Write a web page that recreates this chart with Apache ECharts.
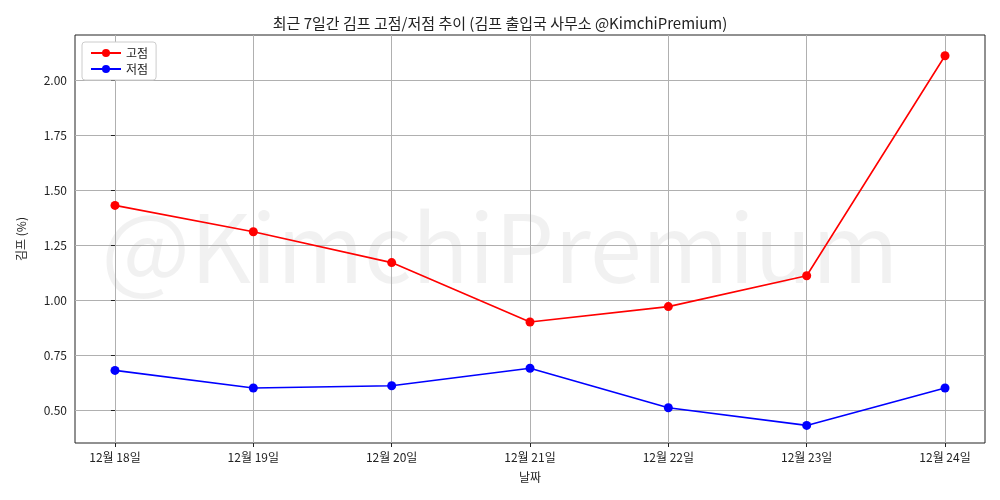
<!DOCTYPE html>
<html>
<head>
<meta charset="utf-8">
<script src="https://cdn.jsdelivr.net/npm/echarts@6/dist/echarts.min.js"></script>
<style>body{margin:0}#c{width:1000px;height:500px}</style>
</head>
<body>
<div id="c"></div>
<script>
var dates = ['12월 18일', '12월 19일', '12월 20일', '12월 21일', '12월 22일', '12월 23일', '12월 24일'];
var highVals = [1.43, 1.31, 1.17, 0.90, 0.97, 1.11, 2.11];
var lowVals = [0.68, 0.60, 0.61, 0.69, 0.51, 0.43, 0.60];
var yTicks = [0.5, 0.75, 1.0, 1.25, 1.5, 1.75, 2.0];

var font = '"Noto Sans CJK KR", "DejaVu Sans", sans-serif';
function pts(arr) { return arr.map(function (v, i) { return [i, v]; }); }
var xTicks = dates.map(function (_, i) { return i; });

var chart = echarts.init(document.getElementById('c'));
chart.setOption({
    animation: false,
    textStyle: { fontFamily: font },
    title: {
        text: '최근 7일간 김프 고점/저점 추이 (김프 출입국 사무소 @KimchiPremium)',
        left: 'center', top: 11,
        textStyle: { fontSize: 15, fontWeight: 'normal', color: '#222', fontFamily: font }
    },
    graphic: [{
        type: 'text', left: 'center', top: 200, z: 0, silent: true,
        style: { text: '@KimchiPremium', fontSize: 94, fill: 'rgba(0,0,0,0.055)', fontFamily: font }
    }],
    legend: {
        left: 82, top: 42, orient: 'vertical', itemGap: 4,
        backgroundColor: '#fff', borderColor: '#ccc', borderWidth: 1, borderRadius: 3, padding: [5, 8],
        itemWidth: 30, itemHeight: 10,
        textStyle: { fontSize: 12, color: '#222' },
        data: ['고점', '저점']
    },
    grid: { left: 75, right: 15, top: 35, bottom: 57, show: true, borderColor: '#222', borderWidth: 1 },
    xAxis: {
        type: 'value', min: -0.289, max: 6.289,
        name: '날짜', nameLocation: 'middle', nameGap: 28, nameTextStyle: { fontSize: 12, color: '#222' },
        axisLine: { show: false },
        axisTick: { show: true, customValues: xTicks, length: 4, lineStyle: { color: '#222' } },
        axisLabel: { customValues: xTicks, fontSize: 12, color: '#222', margin: 8, formatter: function (v) { return dates[Math.round(v)]; } },
        splitLine: { show: true, lineStyle: { color: '#b0b0b0' } }
    },
    yAxis: {
        type: 'value', min: 0.35, max: 2.2045,
        name: '김프 (%)', nameLocation: 'middle', nameGap: 48, nameTextStyle: { fontSize: 12, color: '#222' },
        axisLine: { show: false },
        axisTick: { show: true, customValues: yTicks, length: 4, lineStyle: { color: '#222' } },
        axisLabel: { customValues: yTicks, fontSize: 12, color: '#222', formatter: function (v) { return v.toFixed(2); } },
        splitLine: { show: true, lineStyle: { color: '#b0b0b0' } }
    },
    series: [
        { name: '고점', type: 'line', data: pts(highVals), symbol: 'circle', symbolSize: 9,
          itemStyle: { color: '#ff0000' }, lineStyle: { color: '#ff0000', width: 1.6 } },
        { name: '저점', type: 'line', data: pts(lowVals), symbol: 'circle', symbolSize: 9,
          itemStyle: { color: '#0000ff' }, lineStyle: { color: '#0000ff', width: 1.6 } }
    ]
});
</script>
</body>
</html>
